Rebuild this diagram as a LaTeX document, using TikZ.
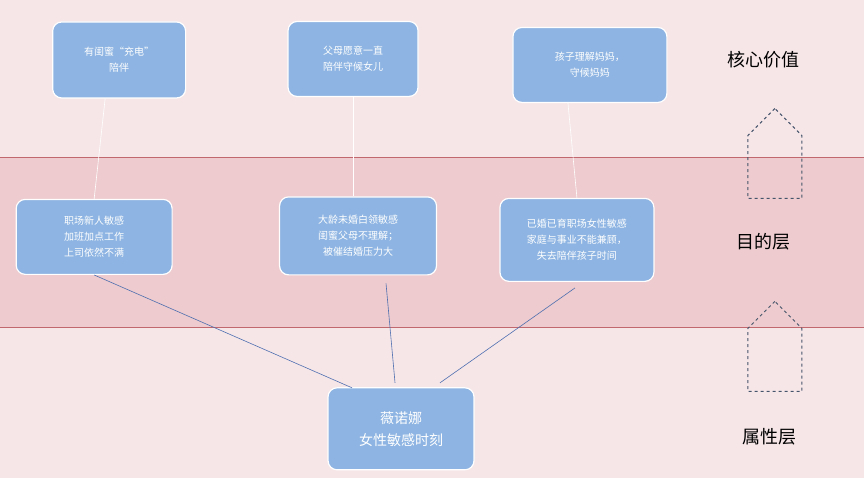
\documentclass[tikz,border=0pt]{standalone}
\usepackage{fontspec}
\setmainfont{Noto Sans CJK SC}
\usetikzlibrary{shapes.arrows}
\definecolor{bgpink}{HTML}{F6E6E8}
\definecolor{bandpink}{HTML}{EDCBCE}
\definecolor{bandline}{HTML}{C0686E}
\definecolor{boxblue}{HTML}{8DB4E2}
\definecolor{linkblue}{HTML}{4F6FB0}
\definecolor{arrowgray}{HTML}{44546A}
\tikzset{
  card/.style={shape=rectangle,rounded corners=9pt,draw=white,line width=1.2pt,fill=boxblue,
    text=white,align=center,font=\fontsize{10}{16}\selectfont,inner sep=0pt},
  layer/.style={font=\fontsize{18}{20}\selectfont,text=black},
  link/.style={draw=linkblue,line width=0.6pt},
  thread/.style={draw=white,line width=0.6pt},
  uparrow/.style={shape=single arrow,shape border rotate=90,draw=arrowgray,dashed,line width=1pt,
    fill=none,minimum width=54pt,single arrow head extend=0pt,minimum height=90pt,inner sep=0pt}
}
\begin{document}
\begin{tikzpicture}[x=1pt,y=-1pt]
	\fill[bgpink] (0,0) rectangle (864,478);
	\fill[bandpink] (0,157) rectangle (864,327);
	\draw[bandline] (0,157) -- (864,157);
	\draw[bandline] (0,327) -- (864,327);
	\useasboundingbox (0,0) rectangle (864,478);
	% top row
	\node[card,minimum width=133pt,minimum height=76pt] (c1) at (119,60) {有闺蜜“充电”\\陪伴};
	\node[card,minimum width=130pt,minimum height=75pt] (c2) at (353,59) {父母愿意一直\\陪伴守候女儿};
	\node[card,minimum width=154pt,minimum height=75pt] (c3) at (590,65) {孩子理解妈妈，\\守候妈妈};
	% middle row
	\node[card,minimum width=156pt,minimum height=75pt] (m1) at (94,237) {职场新人敏感\\加班加点工作\\上司依然不满};
	\node[card,minimum width=157pt,minimum height=78pt] (m2) at (358,236) {大龄未婚白领敏感\\闺蜜父母不理解；\\被催结婚压力大};
	\node[card,minimum width=154pt,minimum height=83pt] (m3) at (577,240) {已婚已育职场女性敏感\\家庭与事业不能兼顾，\\失去陪伴孩子时间};
	% bottom
	\node[card,minimum width=146pt,minimum height=82pt,font=\fontsize{14}{22}\selectfont] (w) at (401,429) {薇诺娜\\女性敏感时刻};
	% connectors
	\path[thread] (c1.south) ++(-14,0) coordinate (t1) (m1.north) coordinate (b1);
	\draw[thread] (t1) -- (b1);
	\draw[thread] (c2.south) -- (m2.north -| c2.south);
	\draw[thread] (c3.south) ++(-22,0) coordinate (t3) -- (m3.north) ;
	\coordinate (w1) at (352,388);
	\coordinate (w2) at (395,383);
	\coordinate (w3) at (440,383);
	\draw[link] (m1.south) -- (w1);
	\draw[link] (m2.south) ++(28,8) coordinate (s2) -- (w2);
	\draw[link] (m3.south) ++(-2,6) coordinate (s3) -- (w3);
	% layers
	\node[layer] (l1) at (764,60) {核心价值};
	\node[layer] (l2) at (764,242) {目的层};
	\node[layer] (l3) at (770,437) {属性层};
	\node[uparrow] (a1) at (775,167) {};
	\node[uparrow] (a2) at (775,360) {};
\end{tikzpicture}
\end{document}
